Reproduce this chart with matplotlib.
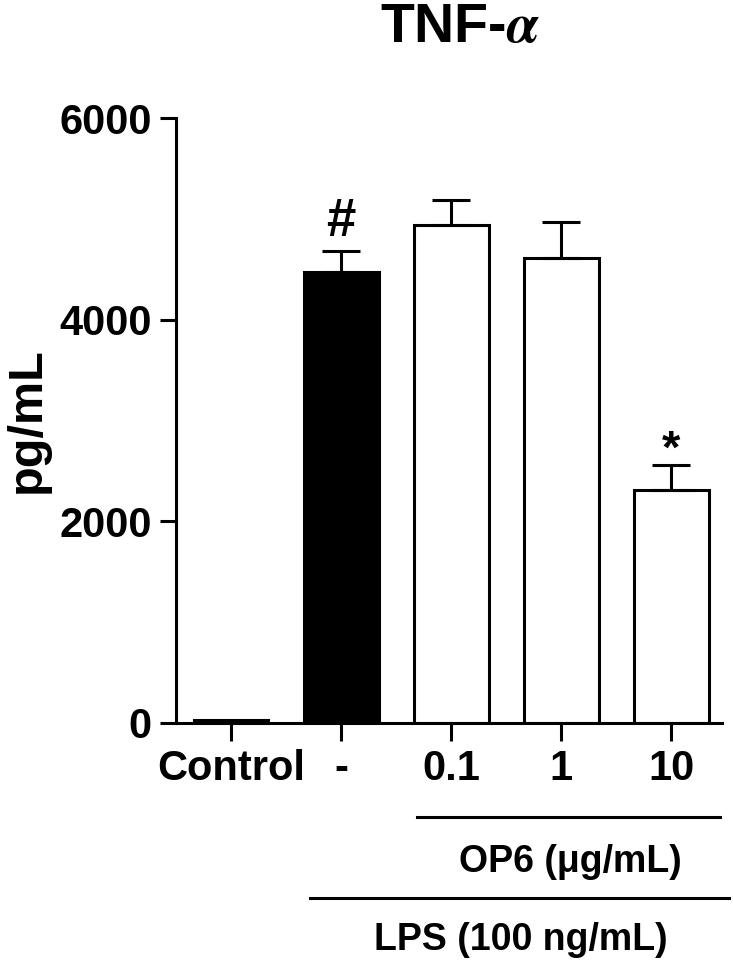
import matplotlib
matplotlib.use("Agg")
import matplotlib.pyplot as plt
import matplotlib.transforms as mtransforms

# data
groups = ["Control", "-", "0.1", "1", "10"]
means = [25, 4470, 4935, 4610, 2315]
sem_up = [0, 210, 250, 358, 240]
colors = ["white", "black", "white", "white", "white"]

plt.rcParams["font.family"] = ["Liberation Sans", "DejaVu Sans"]
plt.rcParams["font.weight"] = "bold"
plt.rcParams["mathtext.fontset"] = "stix"

fig = plt.figure(figsize=(7.33, 9.68), dpi=100)
ax = fig.add_axes([176 / 733, 245 / 968, 546 / 733, 605 / 968])

lw = 2.2
x = list(range(len(groups)))
ax.bar(x, means, width=0.68, color=colors, edgecolor="black", linewidth=lw, zorder=2)

# upper error bars only (control has none)
for i in range(1, len(groups)):
    ax.errorbar(i, means[i], yerr=[[0], [sem_up[i]]], fmt="none", ecolor="black",
                elinewidth=lw, capsize=13.7, capthick=lw, zorder=3)

# significance marks
ax.annotate("#", (1, means[1] + sem_up[1]), xytext=(0, 11), textcoords="offset points",
            ha="center", va="baseline", fontsize=38, fontweight="bold")
ax.annotate("*", (4, means[4] + sem_up[4]), xytext=(0, 2), textcoords="offset points",
            ha="center", va="baseline", fontsize=34, fontweight="bold")

ax.set_xlim(-0.5, 4.46)
ax.set_ylim(0, 6000)
ax.set_yticks([0, 2000, 4000, 6000])
ax.set_xticks(x)
ax.set_xticklabels(groups)

for s in ["top", "right"]:
    ax.spines[s].set_visible(False)
for s in ["left", "bottom"]:
    ax.spines[s].set_linewidth(lw)

ax.tick_params(axis="y", length=11.5, width=lw, pad=6, labelsize=30)
ax.tick_params(axis="x", length=13, width=lw, pad=6, labelsize=30)

ax.set_ylabel("pg/mL", fontsize=35, fontweight="bold")
ax.yaxis.set_label_coords(-0.231, 0.5)

fig.text(460 / 733, 1 - 28 / 968, "TNF-$\\alpha$", ha="center", va="center",
         fontsize=40, fontweight="bold")

# group lines under the x axis
trans = mtransforms.blended_transform_factory(ax.transData, ax.transAxes)
ax.plot([1.69, 4.445], [-0.155, -0.155], color="black", lw=lw, transform=trans, clip_on=False)
ax.text(3.08, -0.23, "OP6 (μg/mL)", transform=trans, ha="center", va="center",
        fontsize=27, fontweight="bold")
ax.plot([0.72, 4.52], [-0.289, -0.289], color="black", lw=lw, transform=trans, clip_on=False)
ax.text(2.63, -0.359, "LPS (100 ng/mL)", transform=trans, ha="center", va="center",
        fontsize=27, fontweight="bold")

fig.savefig("out.png", dpi=100)
